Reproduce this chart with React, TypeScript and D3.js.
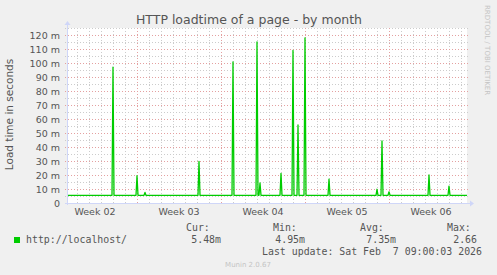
import React from "react";
import * as d3 from "d3";

const W = 497;
const H = 275;

// time window (UTC), 2 hours per pixel
const startTime = Date.UTC(2026, 0, 6, 4, 0, 0);
const endTime = Date.UTC(2026, 1, 8, 12, 0, 0);
const stepMs = 2 * 3600 * 1000;

// baseline load time (ms)
const baselineValue = 5.5;

// spikes: time and value (ms)
const spikeTimes = [
  "2026-01-10T00:00:00Z",
  "2026-01-12T00:00:00Z",
  "2026-01-12T16:00:00Z",
  "2026-01-17T04:00:00Z",
  "2026-01-20T00:00:00Z",
  "2026-01-22T00:00:00Z",
  "2026-01-22T06:00:00Z",
  "2026-01-24T00:00:00Z",
  "2026-01-25T00:00:00Z",
  "2026-01-25T10:00:00Z",
  "2026-01-26T00:00:00Z",
  "2026-01-28T00:00:00Z",
  "2026-02-01T00:00:00Z",
  "2026-02-01T10:00:00Z",
  "2026-02-02T00:00:00Z",
  "2026-02-05T08:00:00Z",
  "2026-02-07T00:00:00Z",
];
const spikeValues = [97, 19.5, 7.6, 29.8, 100.7, 115, 14.3, 21.2, 109, 55.7, 118, 17, 9.8, 44.3, 8, 20, 12.1];

const yTicks = [0, 10, 20, 30, 40, 50, 60, 70, 80, 90, 100, 110, 120];
const yMinor = [5, 15, 25, 35, 45, 55, 65, 75, 85, 95, 105, 115, 125];
const weekLabels = ["Week 02", "Week 03", "Week 04", "Week 05", "Week 06"];
const weekStarts = ["2026-01-05", "2026-01-12", "2026-01-19", "2026-01-26", "2026-02-02"];

const seriesName = "http://localhost/";
const legendCur = "5.48m";
const legendMin = "4.95m";
const legendAvg = "7.35m";
const legendMax = "2.66";
const lastUpdate = "Last update: Sat Feb  7 09:00:03 2026";

const L = 67, R = 467, T = 28, B = 203;

export default function App() {
  const x = d3.scaleUtc().domain([startTime, endTime]).range([L, R]);
  const y = d3.scaleLinear().domain([0, 125]).range([B, T]);

  const pts: [number, number][] = [[startTime, baselineValue]];
  spikeTimes.forEach((s, i) => {
    const t = Date.parse(s);
    pts.push([t - stepMs, baselineValue]);
    pts.push([t, spikeValues[i]]);
    pts.push([t + stepMs, baselineValue]);
  });
  pts.push([endTime, baselineValue]);

  const line = d3
    .line<[number, number]>()
    .x((d) => x(d[0]))
    .y((d) => y(d[1]))
    .curve(d3.curveLinear);

  const days = d3.utcDay.range(new Date(startTime), new Date(endTime));
  const weeks = d3.utcMonday.range(new Date(startTime), new Date(endTime));

  const sans = "DejaVu Sans, sans-serif";
  const mono = "DejaVu Sans Mono, monospace";
  const fontCol = "#555555";

  return (
    <svg
      width={W}
      height={H}
      style={{ position: "fixed", left: 0, top: 0, display: "block" }}
    >
      <rect x={0} y={0} width={W} height={H} fill="#F0F0F0" />
      <rect x={L} y={T} width={R - L} height={B - T} fill="#FFFFFF" />

      {/* minor horizontal grid */}
      {yMinor.map((v) => (
        <line key={"hm" + v} x1={L - 2} x2={R + 2} y1={y(v) + 0.5} y2={y(v) + 0.5}
          stroke="#cccccc" strokeDasharray="1,2" />
      ))}
      {/* minor vertical grid */}
      {days.map((d) => (
        <line key={"vd" + +d} x1={Math.round(x(d)) + 0.5} x2={Math.round(x(d)) + 0.5} y1={T} y2={B + 2}
          stroke="#cccccc" strokeDasharray="1,2" />
      ))}
      {/* major horizontal grid */}
      {yTicks.filter((v) => v > 0).map((v) => (
        <line key={"hM" + v} x1={L - 2} x2={R + 2} y1={y(v) + 0.5} y2={y(v) + 0.5}
          stroke="#e4a0a0" strokeDasharray="1,2" />
      ))}
      {/* major vertical grid */}
      {weeks.map((d) => (
        <line key={"vw" + +d} x1={Math.round(x(d)) + 0.5} x2={Math.round(x(d)) + 0.5} y1={T} y2={B + 2}
          stroke="#e4a0a0" strokeDasharray="1,2" />
      ))}

      {/* data line */}
      <path d={line(pts) || ""} fill="none" stroke="#00CC00" strokeWidth={1.3} strokeLinejoin="round" />

      {/* axes */}
      <line x1={L - 2} x2={R + 3} y1={B + 0.5} y2={B + 0.5} stroke="#CFD6F8" />
      <line x1={L + 0.5} x2={L + 0.5} y1={B + 2} y2={T - 3} stroke="#CFD6F8" />
      <path d={`M${R + 3},${B - 2.5} L${R + 7},${B + 0.5} L${R + 3},${B + 3.5} Z`} fill="#CFD6F8" />
      <path d={`M${L - 2.5},${T - 3} L${L + 0.5},${T - 7} L${L + 3.5},${T - 3} Z`} fill="#CFD6F8" />

      {/* y tick labels */}
      {yTicks.map((v) => (
        <text key={"yl" + v} x={L - 7} y={y(v) + 3.5} textAnchor="end" fontFamily={sans}
          fontSize={9.5} fill={fontCol}>
          {v === 0 ? "0" : `${v} m`}
        </text>
      ))}

      {/* x labels */}
      {weekStarts.map((s, i) => {
        const t = Date.parse(s + "T00:00:00Z") + 3.5 * 86400000;
        return (
          <text key={"xl" + i} x={x(t)} y={215} textAnchor="middle" fontFamily={sans}
            fontSize={9.5} fill={fontCol}>
            {weekLabels[i]}
          </text>
        );
      })}

      {/* title */}
      <text x={249} y={24} textAnchor="middle" fontFamily={sans} fontSize={12.5} fill={fontCol}>
        HTTP loadtime of a page - by month
      </text>

      {/* y axis title */}
      <text transform={`translate(13,${(T + B) / 2 - 1}) rotate(-90)`} textAnchor="middle"
        fontFamily={sans} fontSize={10.5} fill={fontCol}>
        Load time in seconds
      </text>

      {/* rrdtool watermark */}
      <text transform={`translate(485,5) rotate(90)`} textAnchor="start" fontFamily={sans}
        fontSize={7} fill="#c4c4c4">
        RRDTOOL / TOBI OETIKER
      </text>

      {/* legend */}
      <rect x={14} y={237} width={6} height={6} fill="#00CC00" />
      <text x={26} y={243} fontFamily={mono} fontSize={9.9} fill={fontCol} style={{ whiteSpace: "pre" }}>
        {seriesName}
      </text>
      <text x={186} y={231} fontFamily={mono} fontSize={9.9} fill={fontCol}>Cur:</text>
      <text x={221} y={243} textAnchor="end" fontFamily={mono} fontSize={9.9} fill={fontCol}>{legendCur}</text>
      <text x={273} y={231} fontFamily={mono} fontSize={9.9} fill={fontCol}>Min:</text>
      <text x={305} y={243} textAnchor="end" fontFamily={mono} fontSize={9.9} fill={fontCol}>{legendMin}</text>
      <text x={360} y={231} fontFamily={mono} fontSize={9.9} fill={fontCol}>Avg:</text>
      <text x={396} y={243} textAnchor="end" fontFamily={mono} fontSize={9.9} fill={fontCol}>{legendAvg}</text>
      <text x={447} y={231} fontFamily={mono} fontSize={9.9} fill={fontCol}>Max:</text>
      <text x={477} y={243} textAnchor="end" fontFamily={mono} fontSize={9.9} fill={fontCol}>{legendMax}</text>
      <text x={482} y={255} textAnchor="end" fontFamily={mono} fontSize={9.9} fill={fontCol} style={{ whiteSpace: "pre" }}>
        {lastUpdate}
      </text>
      <text x={248} y={267} textAnchor="middle" fontFamily={sans} fontSize={7} fill="#c4c4c4">
        Munin 2.0.67
      </text>
    </svg>
  );
}
